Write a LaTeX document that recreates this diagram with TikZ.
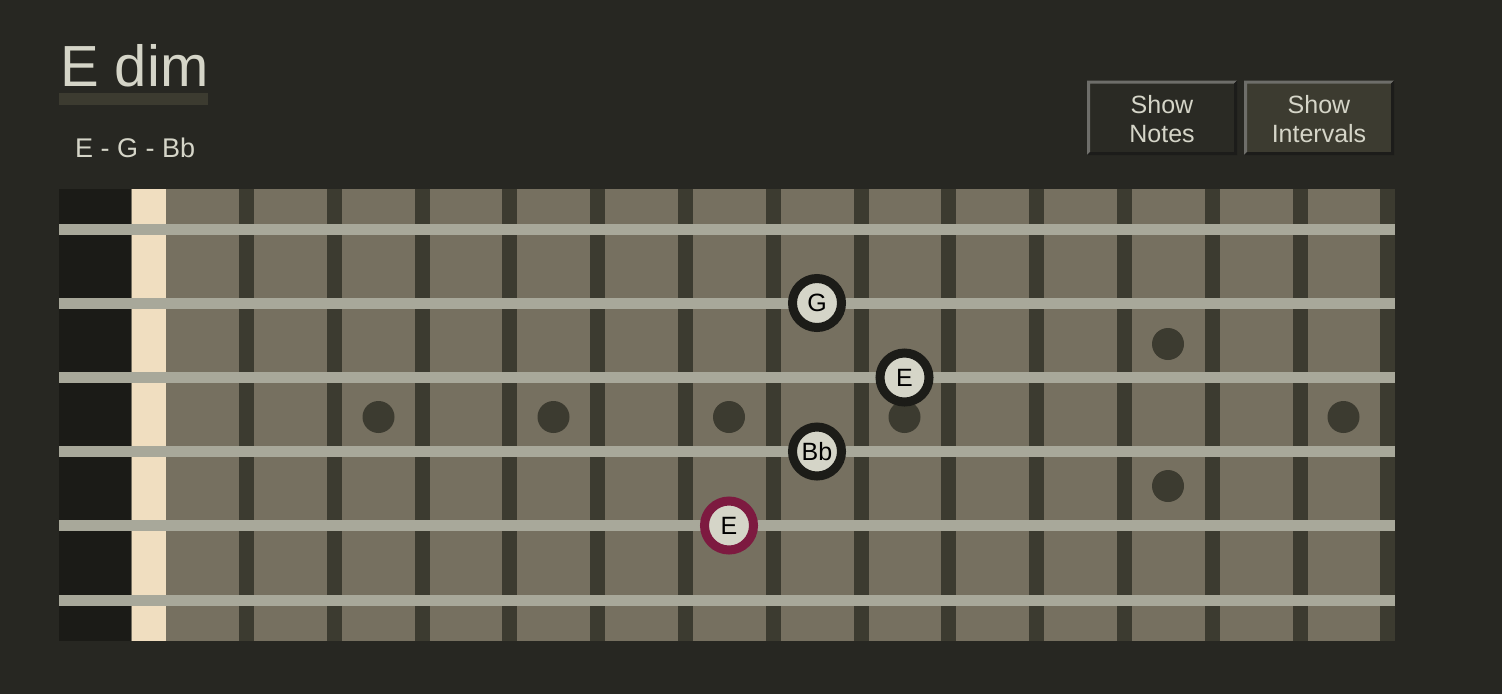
\documentclass[tikz,border=0pt]{standalone}
\usepackage{fontspec}
\setmainfont{Liberation Sans}
\definecolor{bg}{HTML}{272722}
\definecolor{headc}{HTML}{1B1B17}
\definecolor{boardc}{HTML}{767060}
\definecolor{fretc}{HTML}{3C3B30}
\definecolor{stringc}{HTML}{A8A89A}
\definecolor{nutc}{HTML}{F0DEC0}
\definecolor{txt}{HTML}{D5D5C8}
\definecolor{ringc}{HTML}{1C1C18}
\definecolor{rootc}{HTML}{7D1A40}
\definecolor{btnA}{HTML}{2A2A24}
\definecolor{btnB}{HTML}{3C3B30}
\definecolor{bevL}{HTML}{6E6E6A}
\definecolor{bevD}{HTML}{1C1C1A}
\tikzset{
  notec/.style={circle, draw=ringc, line width=9pt, fill=txt, minimum size=49pt, inner sep=0pt, text=black, font=\fontsize{25}{25}\selectfont},
  rootnote/.style={notec, draw=rootc},
  marker/.style={circle, fill=fretc, minimum size=32pt, inner sep=0pt},
  btntext/.style={text=txt, align=center, font=\fontsize{25}{29}\selectfont, inner sep=0pt},
}
\begin{document}
\begin{tikzpicture}[x=1pt,y=-1pt]
\fill[bg] (0,0) rectangle (1502,694);
\useasboundingbox (0,0) rectangle (1502,694);
% title
\node[anchor=base west, inner sep=0pt, text=txt, font=\fontsize{58}{58}\selectfont] (title) at (60,86) {E dim};
\fill[fretc] (59,93) rectangle (208,105);
\node[anchor=base west, inner sep=0pt, text=txt, font=\fontsize{27}{27}\selectfont] (chord) at (75,157.5) {E - G - Bb};
% buttons
\foreach \x/\c/\n in {1087/btnA/b1, 1244/btnB/b2}{
  \fill[\c] (\x,80.5) rectangle (\x+150,155);
  \fill[bevL] (\x,80.5) -- (\x+150,80.5) -- (\x+147,83.5) -- (\x+3,83.5) -- (\x+3,152) -- (\x,155) -- cycle;
  \fill[bevD] (\x+150,80.5) -- (\x+150,155) -- (\x,155) -- (\x+3,152) -- (\x+147,152) -- (\x+147,83.5) -- cycle;
}
\node[btntext] (bn) at (1162,119) {Show\\Notes};
\node[btntext] (bi) at (1319,119) {Show\\Intervals};
% fretboard
\fill[boardc] (59,189) rectangle (1395,641);
\fill[headc] (59,189) rectangle (131,641);
\fill[nutc] (132,189) rectangle (166,641);
\foreach \k in {0,...,13}{
  \fill[fretc] ({239+87.8*\k},189) rectangle ({254+87.8*\k},641);
}
% markers
\node[marker] (m3) at (378.5,417) {};
\node[marker] (m5) at (553.5,417) {};
\node[marker] (m7) at (729,417) {};
\node[marker] (m9) at (904.5,417) {};
\node[marker] (m12a) at (1168,344) {};
\node[marker] (m12b) at (1168,486) {};
\node[marker] (m15) at (1343.5,417) {};
% strings
\foreach \y in {229.5,303,377.5,451.5,525.5,600}{
  \fill[stringc] (59,\y-5.5) rectangle (1395,\y+5.5);
}
% notes
\node[notec] (nG) at (817,303) {G};
\node[notec] (nE) at (904.5,377.5) {E};
\node[notec] (nBb) at (817,451.5) {Bb};
\node[rootnote] (nRoot) at (729,525.5) {E};
\end{tikzpicture}
\end{document}
